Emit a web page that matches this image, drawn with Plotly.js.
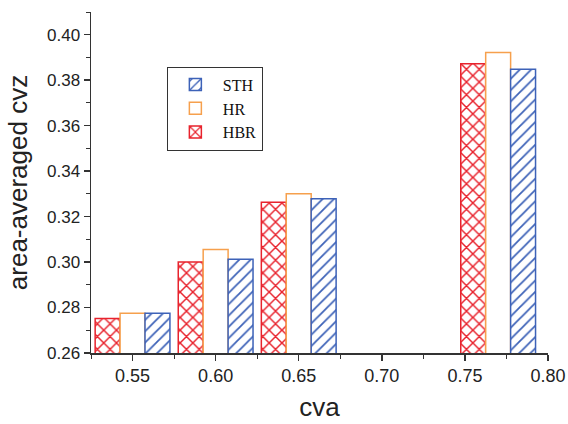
<!DOCTYPE html>
<html>
<head>
<meta charset="utf-8">
<script src="https://cdn.plot.ly/plotly-3.0.1.min.js"></script>
<style>html,body{margin:0;padding:0;background:#fff;}#chart{width:568px;height:424px;}</style>
</head>
<body>
<div id="chart"></div>
<script>
// Data
const cva = [0.55, 0.60, 0.65, 0.77];
const hbr = [0.2752, 0.3000, 0.3263, 0.3872];
const hr  = [0.2775, 0.3055, 0.3300, 0.3922];
const sth = [0.2775, 0.3012, 0.3279, 0.3848];
const seriesNames = ['HBR', 'HR', 'STH'];

const red = '#e8232d', orange = '#f6a04d', blue = '#3d62b8';

const traces = [
  {type: 'bar', name: seriesNames[0], x: cva, y: hbr,
   marker: {color: '#ffffff', line: {color: red, width: 1.5},
            pattern: {shape: 'x', fgcolor: red, bgcolor: '#ffffff', size: 9, solidity: 0.3, fillmode: 'replace'}}},
  {type: 'bar', name: seriesNames[1], x: cva, y: hr,
   marker: {color: '#ffffff', line: {color: orange, width: 1.5}}},
  {type: 'bar', name: seriesNames[2], x: cva, y: sth,
   marker: {color: '#ffffff', line: {color: blue, width: 1.5},
            pattern: {shape: '/', fgcolor: blue, bgcolor: '#ffffff', size: 8, solidity: 0.22, fillmode: 'replace'}}}
];

const tickFont = {family: 'Liberation Sans, Arial, sans-serif', size: 17, color: '#222'};
const layout = {
  width: 568, height: 424,
  margin: {l: 91, r: 20, t: 12, b: 71},
  paper_bgcolor: '#fff', plot_bgcolor: '#fff',
  barmode: 'group', bargap: 0.1, bargroupgap: 0,
  showlegend: true,
  legend: {x: 0.166, y: 0.84, xanchor: 'left', yanchor: 'top',
           traceorder: 'reversed', bordercolor: '#333', borderwidth: 1, bgcolor: '#fff',
           font: {family: 'Liberation Serif, Times New Roman, serif', size: 16, color: '#111'},
           tracegroupgap: 0, itemwidth: 45},
  xaxis: {range: [0.525, 0.80], tickmode: 'linear', tick0: 0.55, dtick: 0.05, tickformat: '.2f',
          showgrid: false, zeroline: false, showline: true, linecolor: '#333', linewidth: 1.5,
          ticks: 'outside', ticklen: 6, tickwidth: 1.5, tickcolor: '#333',
          minor: {dtick: 0.025, tick0: 0.525, ticks: 'outside', ticklen: 4, tickwidth: 1, tickcolor: '#333', showgrid: false},
          tickfont: {family: tickFont.family, size: 18, color: '#222'},
          title: {text: 'cva', font: {family: tickFont.family, size: 26, color: '#222'}, standoff: 12}},
  yaxis: {range: [0.26, 0.41], tickmode: 'linear', tick0: 0.26, dtick: 0.02, tickformat: '.2f',
          showgrid: false, zeroline: false, showline: true, linecolor: '#333', linewidth: 1.5,
          ticks: 'outside', ticklen: 6, tickwidth: 1.5, tickcolor: '#333',
          minor: {dtick: 0.01, ticks: 'outside', ticklen: 4, tickwidth: 1, tickcolor: '#333', showgrid: false},
          tickfont: tickFont,
          title: {text: 'area-averaged cvz', font: {family: tickFont.family, size: 26, color: '#222'}, standoff: 12}}
};

Plotly.newPlot('chart', traces, layout, {displayModeBar: false, staticPlot: true});
</script>
</body>
</html>
